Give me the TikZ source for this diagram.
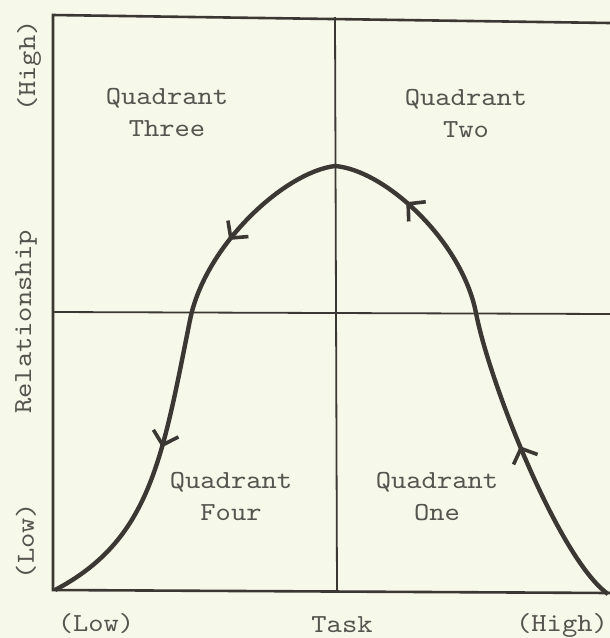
\documentclass[tikz,border=0pt]{standalone}
\usepackage{fontspec}
\usetikzlibrary{arrows.meta,decorations.markings}
\newfontfamily\twfont{lmmono10-regular.otf}[FakeStretch=1.12]
\definecolor{paper}{HTML}{F6F8E9}
\definecolor{ink}{HTML}{3B3834}
\definecolor{type}{HTML}{55544F}
\tikzstyle{lbl}=[font=\twfont\fontsize{13}{16}\selectfont, text=type, inner sep=0, align=center]
\tikzstyle{axis}=[draw=ink, line width=1.3pt]
\tikzstyle{mid}=[draw=ink, line width=0.9pt]
\tikzstyle{curve}=[draw=ink, line width=2.2pt, line join=round, postaction={decorate},
  decoration={markings,
    mark=at position 0.163 with {\arrow{Straight Barb[length=6pt, width=13pt, line width=1.8pt]}},
    mark=at position 0.42 with {\arrow{Straight Barb[length=6pt, width=13pt, line width=1.8pt]}},
    mark=at position 0.62 with {\arrow{Straight Barb[length=6pt, width=13pt, line width=1.8pt]}},
    mark=at position 0.827 with {\arrow{Straight Barb[length=6pt, width=13pt, line width=1.8pt]}}}]

\begin{document}
\begin{tikzpicture}[x=0.5pt, y=-0.5pt]
\fill[paper] (0,0) rectangle (610,638);
\useasboundingbox (0,0) rectangle (610,638);
% frame
\coordinate (tl) at (53,15);
\coordinate (tr) at (610,23);
\coordinate (bl) at (53,590);
\coordinate (br) at (610,593);
\coordinate (ml) at (53,312);
\coordinate (mr) at (610,314);
\coordinate (mt) at (335,17);
\coordinate (mb) at (337,591);
\draw[axis] (tr)--(tl)--(bl)--(br);
\draw[mid] (ml)--(mr);
\draw[mid] (mt)--(mb);
% curve
\coordinate (lo) at (55,590);
\coordinate (l1) at (190,320);
\coordinate (top) at (335,166);
\coordinate (r1) at (476,313);
\coordinate (hi) at (608,594);
\draw[curve] (hi) .. controls (560,560) and (490,385) .. (r1)
  .. controls (462,241) and (385,170) .. (top)
  .. controls (285,172) and (205,245) .. (l1)
  .. controls (162,460) and (150,540) .. (lo);
% quadrants
\node at (167,112)[lbl](q3){Quadrant\\Three};
\node at (466,113)[lbl](q2){Quadrant\\Two};
\node at (231,496)[lbl](q4){Quadrant\\Four};
\node at (437,497)[lbl](q1){Quadrant\\One};
% axis labels
\node at (96,624)[lbl](xlow){(Low)};
\node at (342,625)[lbl](task){Task};
\node at (562,625)[lbl](xhigh){(High)};
\node at (29,66)[lbl, rotate=90](yhigh){(High)};
\node at (26,322)[lbl, rotate=90](rel){Relationship};
\node at (26,541)[lbl, rotate=90](ylow){(Low)};
\end{tikzpicture}
\end{document}
